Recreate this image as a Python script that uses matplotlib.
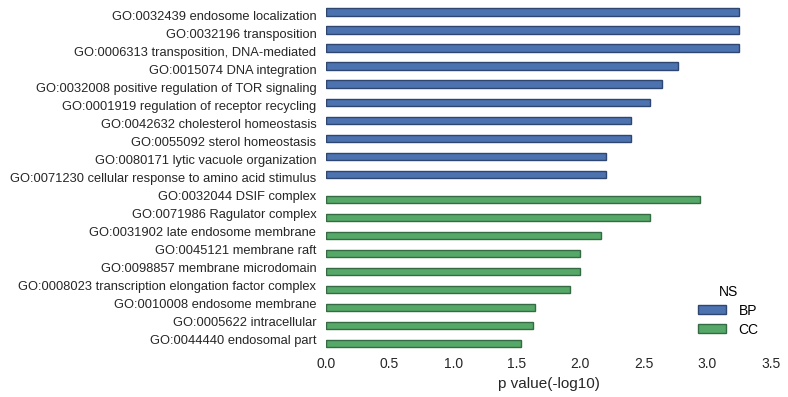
import matplotlib
matplotlib.use("Agg")
import matplotlib.pyplot as plt
import matplotlib.transforms as mtransforms
import numpy as np
from matplotlib.patches import Patch

plt.rcParams['font.family'] = ['Liberation Sans', 'DejaVu Sans']

terms = [
    "GO:0032439 endosome localization",
    "GO:0032196 transposition",
    "GO:0006313 transposition, DNA-mediated",
    "GO:0015074 DNA integration",
    "GO:0032008 positive regulation of TOR signaling",
    "GO:0001919 regulation of receptor recycling",
    "GO:0042632 cholesterol homeostasis",
    "GO:0055092 sterol homeostasis",
    "GO:0080171 lytic vacuole organization",
    "GO:0071230 cellular response to amino acid stimulus",
    "GO:0032044 DSIF complex",
    "GO:0071986 Ragulator complex",
    "GO:0031902 late endosome membrane",
    "GO:0045121 membrane raft",
    "GO:0098857 membrane microdomain",
    "GO:0008023 transcription elongation factor complex",
    "GO:0010008 endosome membrane",
    "GO:0005622 intracellular",
    "GO:0044440 endosomal part",
]
ns = ["BP"] * 10 + ["CC"] * 9
pvals = [3.247, 3.247, 3.247, 2.771, 2.645, 2.551, 2.399, 2.399, 2.206, 2.206,
         2.943, 2.551, 2.166, 1.994, 1.994, 1.923, 1.640, 1.630, 1.531]
groups = ["BP", "CC"]

colors = {"BP": "#4C72B0", "CC": "#55A868"}
edges = {"BP": "#2f4770", "CC": "#356b42"}
offsets = {"BP": -0.2, "CC": 0.2}

fig = plt.figure(figsize=(7.88, 3.97), dpi=100)
ax = fig.add_axes([326/788, 1 - 349/397, (771 - 326)/788, (349 - 6.6)/397])

y = np.arange(len(terms))
for i, (t, g, v) in enumerate(zip(terms, ns, pvals)):
    ax.barh(y[i] + offsets[g], v, height=0.4, color=colors[g],
            edgecolor=edges[g], linewidth=1)

ax.set_yticks(y)
ax.set_yticklabels(terms, fontsize=9.3, color="#262626")
shift = mtransforms.ScaledTranslation(0, 1.5/100, fig.dpi_scale_trans)
for lbl in ax.get_yticklabels():
    lbl.set_va("center_baseline")
    lbl.set_transform(lbl.get_transform() + shift)
ax.set_ylim(len(terms) - 0.5, -0.5)
ax.set_xlim(0, 3.5)
ax.set_xticks(np.arange(0, 3.51, 0.5))
ax.set_xticklabels([f"{v:.1f}" for v in np.arange(0, 3.51, 0.5)], fontsize=10, color="#262626")
ax.set_xlabel("p value(-log10)", fontsize=11, color="#262626")
ax.tick_params(axis="y", length=0, pad=7)
ax.tick_params(axis="x", length=0, pad=6)
for s in ax.spines.values():
    s.set_visible(False)

handles = [Patch(facecolor=colors[g], edgecolor=edges[g], linewidth=1, label=g) for g in groups]
leg = ax.legend(handles=handles, title="NS", loc="lower right", frameon=False,
                fontsize=10, title_fontsize=10, bbox_to_anchor=(1.0, 0.0),
                handlelength=2.0, handleheight=0.6, labelspacing=0.35,
                handletextpad=0.9)

fig.savefig("out.png", dpi=100)
